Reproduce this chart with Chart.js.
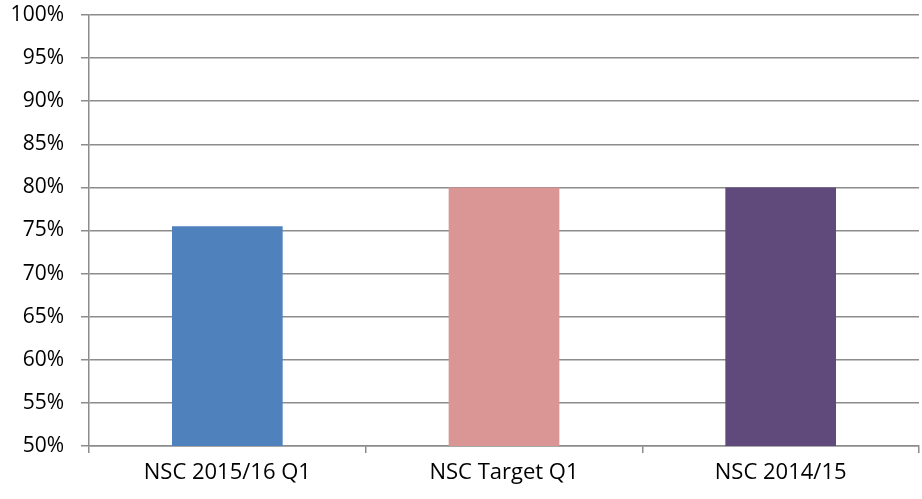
<!DOCTYPE html>
<html>
<head>
<meta charset="utf-8">
<script src="https://cdn.jsdelivr.net/npm/chart.js@4"></script>
<style>
  html, body { margin: 0; padding: 0; background: #fff; }
  #wrap { width: 922px; height: 499px; }
</style>
</head>
<body>
<div id="wrap"><canvas id="nscChart" width="922" height="499"></canvas></div>
<script>
// chart data
const categories = ['NSC 2015/16 Q1', 'NSC Target Q1', 'NSC 2014/15'];
const values = [75.5, 80, 80];
const barColors = ['#4F81BD', '#D99694', '#604A7B'];
const yMin = 50;
const yMax = 100;
const yStep = 5;

const gridColor = '#8c8c8c';
const font = { family: "'Open Sans', sans-serif", size: 21, lineHeight: 1 };
const xFont = { family: "'Open Sans', sans-serif", size: 22, lineHeight: 1 };

new Chart(document.getElementById('nscChart'), {
    type: 'bar',
    data: {
        labels: categories,
        datasets: [{
            data: values,
            backgroundColor: barColors,
            borderWidth: 0,
            barPercentage: 0.4,
            categoryPercentage: 1
        }]
    },
    options: {
        responsive: false,
        animation: false,
        layout: { padding: { top: 15, right: 3, bottom: 0, left: 0 } },
        plugins: {
            legend: { display: false },
            tooltip: { enabled: false }
        },
        scales: {
            x: {
                grid: {
                    offset: true,
                    drawOnChartArea: false,
                    drawTicks: true,
                    tickLength: 7,
                    color: gridColor,
                    lineWidth: 1.5
                },
                border: { color: gridColor, width: 1.5 },
                ticks: { color: '#000', font: xFont, padding: 9, maxRotation: 0 },
                afterFit: (s) => { s.height = 53; }
            },
            y: {
                min: yMin,
                max: yMax,
                grid: {
                    color: gridColor,
                    lineWidth: 1.5,
                    tickLength: 8
                },
                border: { color: gridColor, width: 1.5 },
                ticks: {
                    stepSize: yStep,
                    color: '#000',
                    font: font,
                    padding: 17,
                    callback: (v) => v + '%'
                },
                afterFit: (s) => { s.width = 89; s.paddingTop = 0; }
            }
        }
    }
});
</script>
</body>
</html>
